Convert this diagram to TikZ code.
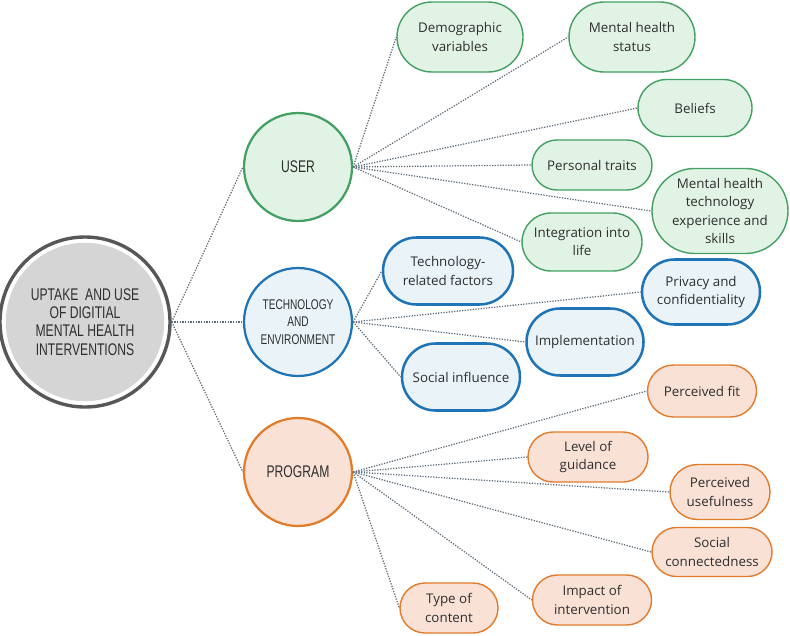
\documentclass[tikz,border=0pt]{standalone}
\usepackage{fontspec}
\setmainfont{Open Sans}
\newfontfamily\capsfont[FakeStretch=0.72]{Liberation Sans}
\usetikzlibrary{positioning, shapes.misc}
\definecolor{ringgray}{HTML}{575757}
\definecolor{hubgray}{HTML}{D5D5D5}
\definecolor{inkgray}{HTML}{2E2E2E}
\definecolor{linkgray}{HTML}{5E6B78}
\definecolor{usergreen}{HTML}{43A062}
\definecolor{userfill}{HTML}{E1F3E5}
\definecolor{techblue}{HTML}{1F74B6}
\definecolor{techfill}{HTML}{EAF4F8}
\definecolor{progorange}{HTML}{E27B2C}
\definecolor{progfill}{HTML}{F9E1D5}

\begin{document}
\begin{tikzpicture}[
    link/.style={densely dotted, line width=0.9pt, draw=linkgray},
    hub/.style={circle, minimum size=2.7cm, inner sep=0pt, align=center, text=inkgray,
                font=\capsfont\fontsize{12}{13}\selectfont},
    leaf/.style={rounded rectangle, inner sep=0pt, align=center, text=inkgray,
                 font=\fontsize{9.5}{13}\selectfont},
    userleaf/.style={leaf, draw=usergreen, line width=1pt, fill=userfill},
    techleaf/.style={leaf, draw=techblue, line width=1.8pt, fill=techfill},
    progleaf/.style={leaf, draw=progorange, line width=1pt, fill=progfill}
  ]
    \useasboundingbox (0,0) rectangle (19.75,-15.875);

    % centre
    \node[hub, minimum size=4.25cm, draw=ringgray, line width=2.4pt, fill=white,
          path picture={\fill[hubgray] (path picture bounding box.center) circle (1.98cm);}]
          (uptake) at (2.125,-8.05) {UPTAKE\ \ AND USE\\OF DIGITIAL\\MENTAL HEALTH\\INTERVENTIONS};

    % three groups
    \node[hub, draw=usergreen, line width=1.6pt, fill=userfill] (user) at (7.45,-4.175) {USER};
    \node[hub, draw=techblue, line width=1.6pt, fill=techfill,
          font=\capsfont\fontsize{10}{12.5}\selectfont] (tech) at (7.45,-8.05) {TECHNOLOGY\\AND\\ENVIRONMENT};
    \node[hub, draw=progorange, line width=1.6pt, fill=progfill] (program) at (7.45,-11.8) {PROGRAM};

    % user factors
    \node[userleaf, minimum width=3.15cm, minimum height=1.75cm] (demo) at (11.5,-0.925) {Demographic\\variables};
    \node[userleaf, minimum width=3.15cm, minimum height=1.75cm] (status) at (15.8,-0.925) {Mental health\\status};
    \node[userleaf, minimum width=2.85cm, minimum height=1.425cm] (beliefs) at (17.375,-2.7) {Beliefs};
    \node[userleaf, minimum width=3cm, minimum height=1.25cm] (traits) at (14.8,-4.125) {Personal traits};
    \node[userleaf, minimum width=3.4cm, minimum height=2.125cm] (skills) at (18.0,-5.275) {Mental health\\technology\\experience and\\skills};
    \node[userleaf, minimum width=3cm, minimum height=1.45cm] (life) at (14.55,-6.05) {Integration into\\life};

    % technology and environment factors
    \node[techleaf, minimum width=3.25cm, minimum height=1.675cm] (techrel) at (11.2,-6.775) {Technology-\\related factors};
    \node[techleaf, minimum width=2.95cm, minimum height=1.625cm] (privacy) at (17.525,-7.3) {Privacy and\\confidentiality};
    \node[techleaf, minimum width=2.925cm, minimum height=1.675cm] (implement) at (14.625,-8.55) {Implementation};
    \node[techleaf, minimum width=2.95cm, minimum height=1.675cm] (social) at (11.525,-9.425) {Social influence};

    % program factors
    \node[progleaf, minimum width=2.725cm, minimum height=1.3cm] (fit) at (17.55,-9.775) {Perceived fit};
    \node[progleaf, minimum width=3cm, minimum height=1.25cm] (guidance) at (14.7,-11.425) {Level of\\guidance};
    \node[progleaf, minimum width=2.5cm, minimum height=1.375cm] (useful) at (18.0,-12.3) {Perceived\\usefulness};
    \node[progleaf, minimum width=3cm, minimum height=1.225cm] (connect) at (17.8,-13.8) {Social\\connectedness};
    \node[progleaf, minimum width=2.975cm, minimum height=1.25cm] (impact) at (14.8,-15.0) {Impact of\\intervention};
    \node[progleaf, minimum width=2.45cm, minimum height=1.25cm] (content) at (11.225,-15.2) {Type of\\content};

    \draw[link] (uptake.east) -- (user.west);
    \draw[link] (uptake.east) -- (tech.west);
    \draw[link] (uptake.east) -- (program.west);

    \foreach \leafname in {demo, status, beliefs, traits, skills, life}
      \draw[link] (user.east) -- (\leafname.west);
    \foreach \leafname in {techrel, privacy, implement, social}
      \draw[link] (tech.east) -- (\leafname.west);
    \foreach \leafname in {fit, guidance, useful, connect, impact, content}
      \draw[link] (program.east) -- (\leafname.west);
\end{tikzpicture}
\end{document}
